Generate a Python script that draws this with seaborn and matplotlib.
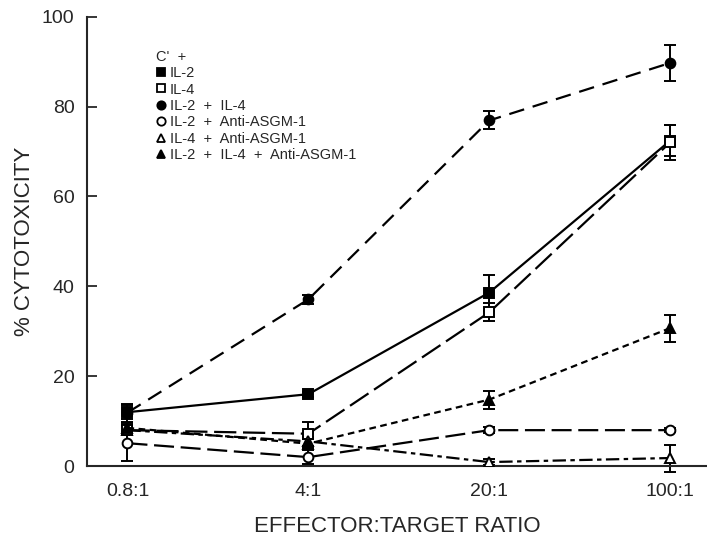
import matplotlib
matplotlib.use("Agg")
import matplotlib.pyplot as plt
import seaborn as sns
import pandas as pd
from matplotlib.lines import Line2D

ratios = ["0.8:1", "4:1", "20:1", "100:1"]

il2 = [12, 16, 38.6, 72.4]
il2_err = [1.5, 0.6, 4, 3.5]
il4 = [8, 7.2, 34.2, 72]
il4_err = [1, 2.7, 2, 4]
il2_il4 = [11.9, 37.1, 76.9, 89.7]
il2_il4_err = [2, 1, 2, 4]
il2_asgm = [5.1, 2, 8, 8]
il2_asgm_err = [4, 1.5, 0.6, 0.5]
il4_asgm = [8, 5.5, 0.9, 1.8]
il4_asgm_err = [1, 1, 0.6, 3]
il2_il4_asgm = [8.5, 5, 14.8, 30.7]
il2_il4_asgm_err = [1, 1, 2, 3]

labels = ["IL-2", "IL-4", "IL-2  +  IL-4", "IL-2  +  Anti-ASGM-1",
          "IL-4  +  Anti-ASGM-1", "IL-2  +  IL-4  +  Anti-ASGM-1"]

series = [
    (il2, il2_err, "s", "black", (None, None)),
    (il4, il4_err, "s", "white", (10, 3)),
    (il2_il4, il2_il4_err, "o", "black", (7, 4)),
    (il2_asgm, il2_asgm_err, "o", "white", (9, 3)),
    (il4_asgm, il4_asgm_err, "^", "white", (6, 2, 2, 2)),
    (il2_il4_asgm, il2_il4_asgm_err, "^", "black", (3, 2)),
]

sns.set_style("ticks")
plt.rcParams['font.family'] = ['Liberation Sans', 'DejaVu Sans']

fig = plt.figure(figsize=(7.07, 5.37), dpi=100)
ax = fig.add_axes([0.123, 0.132, 0.877, 0.837])

for lab, (vals, errs, mk, fc, dash) in zip(labels, series):
    df = pd.DataFrame({"ratio": ratios, "val": vals})
    kw = {}
    if dash[0] is not None:
        kw["dashes"] = dash
    sns.lineplot(data=df, x="ratio", y="val", ax=ax, color="black",
                 linewidth=1.6, marker=mk, markersize=7,
                 markerfacecolor=fc, markeredgecolor="black",
                 markeredgewidth=1.4, sort=False, zorder=3, **kw)
    ax.errorbar(ratios, vals, yerr=errs, fmt="none", ecolor="black",
                elinewidth=1.4, capsize=4, capthick=1.4, zorder=2,
                clip_on=False)

ax.set_xlim(-0.224, 3.204)
ax.set_ylim(0, 100)
ax.set_yticks([0, 20, 40, 60, 80, 100])
ax.tick_params(axis="y", direction="in", length=7, width=1.3,
               labelsize=14, pad=9)
ax.tick_params(axis="x", length=0, labelsize=14, pad=12)
for s in ["top", "right"]:
    ax.spines[s].set_visible(False)
for s in ["left", "bottom"]:
    ax.spines[s].set_linewidth(1.5)

ax.set_xlabel("EFFECTOR:TARGET RATIO", fontsize=16, labelpad=12)
ax.set_ylabel("% CYTOTOXICITY", fontsize=16, labelpad=5)

handles = [Line2D([], [], linestyle="none", marker=mk, markersize=6,
                  markerfacecolor=fc, markeredgecolor="black",
                  markeredgewidth=1.3)
           for (_, _, mk, fc, _) in series]
leg = ax.legend(handles, labels, title="C'  +", loc="upper left",
                bbox_to_anchor=(0.100, 0.943), frameon=False, fontsize=10.5,
                title_fontsize=10.5, handlelength=0.6, handletextpad=0.35,
                labelspacing=0.17, borderpad=0)
leg._legend_box.align = "left"

fig.savefig("out.png", dpi=100)
